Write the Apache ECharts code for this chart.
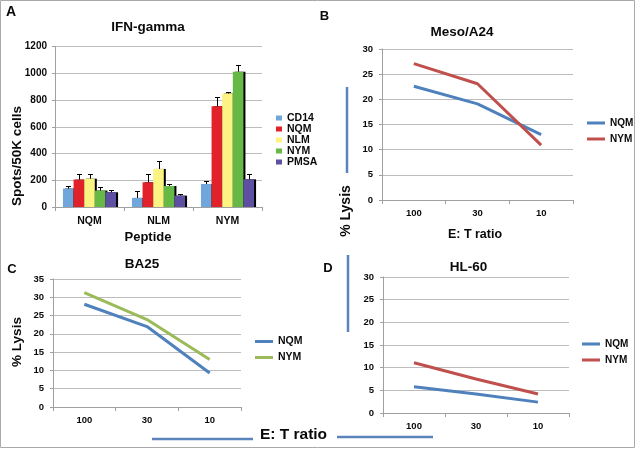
<!DOCTYPE html>
<html>
<head>
<meta charset="utf-8">
<script src="https://cdn.jsdelivr.net/npm/echarts@6/dist/echarts.min.js"></script>
<style>html,body{margin:0;padding:0;background:#fff}#c{width:636px;height:449px}</style>
</head>
<body>
<div id="c"></div>
<script>
// ---- Panel A data ----
const peptides = ['NQM', 'NLM', 'NYM'];
const groupNames = ['CD14', 'NQM', 'NLM', 'NYM', 'PMSA'];
const groupColors = ['#6fa6dc', '#e2222b', '#fbf382', '#67b946', '#5f4fa3'];
const cd14 = [138, 68, 172];
const nqmA = [205, 185, 755];
const nlmA = [212, 285, 850];
const nymA = [123, 157, 1013];
const pmsa = [110, 85, 207];
const cd14Err = [20, 50, 22];
const nqmAErr = [40, 65, 70];
const nlmAErr = [38, 62, 14];
const nymAErr = [25, 18, 50];
const pmsaErr = [18, 10, 43];
const aTicks = [0, 200, 400, 600, 800, 1000, 1200];

// ---- Line panels ----
const ratios = ['100', '30', '10'];
const mesoNQM = [22.6, 19.1, 13.0];
const mesoNYM = [27.1, 23.1, 10.9];
const ba25NQM = [28.1, 22.0, 9.3];
const ba25NYM = [31.3, 23.9, 13.0];
const hl60NQM = [5.8, 4.2, 2.4];
const hl60NYM = [11.1, 7.5, 4.2];

const FONT = 'Liberation Sans, Arial, sans-serif';
const blue = '#4f81bd', red = '#c0504d', green = '#9bbb59';
const gridColor = '#bcbcbc', axisColor = '#a0a0a0';

const barVals = [cd14, nqmA, nlmA, nymA, pmsa];
const barErrs = [cd14Err, nqmAErr, nlmAErr, nymAErr, pmsaErr];
const GAP = 0.23;

function catAxis(gi, data) {
  return {
    type: 'category', gridIndex: gi, data: data, boundaryGap: true,
    axisLine: {lineStyle: {color: axisColor, width: 1}},
    axisTick: {show: true, length: 4, lineStyle: {color: axisColor}},
    axisLabel: {color: '#0a0a0a', fontFamily: FONT, fontWeight: 'bold', fontSize: gi === 0 ? 10.5 : 9.5, margin: gi === 0 ? 9 : 8}
  };
}
function valAxis(gi, max, interval, fs) {
  return {
    type: 'value', gridIndex: gi, min: 0, max: max, interval: interval,
    axisLine: {show: true, lineStyle: {color: axisColor}},
    axisTick: {show: true, length: 3, lineStyle: {color: axisColor}},
    splitLine: {show: true, lineStyle: {color: gridColor, width: 1}},
    axisLabel: {color: '#0a0a0a', fontFamily: FONT, fontWeight: 'bold', fontSize: fs, margin: gi === 0 ? 8 : 9,
      formatter: function (v) { return String(v); }}
  };
}

const series = [];
groupNames.forEach((n, i) => {
  series.push({
    type: 'bar', name: n, xAxisIndex: 0, yAxisIndex: 0, data: barVals[i],
    barGap: '0%', barCategoryGap: (GAP * 100) + '%',
    itemStyle: {color: groupColors[i], shadowColor: '#000', shadowOffsetX: 2, shadowOffsetY: 0, shadowBlur: 0},
    emphasis: {disabled: true}, animation: false
  });
});
const errData = [];
groupNames.forEach((n, i) => {
  peptides.forEach((p, c) => {
    errData.push([c, barVals[i][c], barVals[i][c] + barErrs[i][c], i]);
  });
});
series.push({
  type: 'custom', xAxisIndex: 0, yAxisIndex: 0, data: errData, z: 5,
  encode: {x: 0, y: [1, 2]}, animation: false,
  renderItem: function (params, api) {
    const c = api.value(0), v = api.value(1), top = api.value(2), idx = api.value(3);
    const band = api.size([1, 0])[0];
    const gw = band * (1 - GAP), bw = gw / 5;
    const cx = Math.round(api.coord([c, 0])[0] - gw / 2 + bw * (idx + 0.5)) + 0.5;
    const y1 = api.coord([c, v])[1], y2 = Math.round(api.coord([c, top])[1]) + 0.5;
    return {type: 'group', children: [
      {type: 'line', shape: {x1: cx, y1: y1, x2: cx, y2: y2}, style: {stroke: '#000', lineWidth: 1}},
      {type: 'line', shape: {x1: cx - 2.5, y1: y2, x2: cx + 2.5, y2: y2}, style: {stroke: '#000', lineWidth: 1}}
    ]};
  }
});
function lineSeries(gi, name, data, color) {
  return {type: 'line', name: name, xAxisIndex: gi, yAxisIndex: gi, data: data, symbol: 'none',
    lineStyle: {color: color, width: 3}, itemStyle: {color: color}, animation: false, emphasis: {disabled: true}};
}
series.push(lineSeries(1, 'NQM', mesoNQM, blue));
series.push(lineSeries(1, 'NYM', mesoNYM, red));
series.push(lineSeries(2, 'NQM', ba25NQM, blue));
series.push(lineSeries(2, 'NYM', ba25NYM, green));
series.push(lineSeries(3, 'NQM', hl60NQM, blue));
series.push(lineSeries(3, 'NYM', hl60NYM, red));

function lineLegend(left, top, c2, fs) {
  return {
    left: left, top: top, padding: 0, orient: 'vertical', icon: 'rect', itemWidth: 18, itemHeight: 3,
    itemGap: 5, itemTextGap: 1, selectedMode: false,
    textStyle: {color: '#0a0a0a', fontFamily: FONT, fontWeight: 'bold', fontSize: fs, lineHeight: 11},
    data: [{name: 'NQM', itemStyle: {color: blue}}, {name: 'NYM', itemStyle: {color: c2}}]
  };
}

function txt(t, x, y, size, rot) {
  const e = {type: 'text', x: x, y: y, z: 10, style: {text: t, fill: '#0a0a0a',
    font: 'bold ' + size + 'px ' + FONT, textAlign: 'center', textVerticalAlign: 'middle', align: 'center', verticalAlign: 'middle'}};
  if (rot) e.rotation = Math.PI / 2;
  return e;
}
function seg(x1, y1, x2, y2) {
  return {type: 'line', z: 9, shape: {x1: x1, y1: y1, x2: x2, y2: y2}, style: {stroke: '#5b84ba', lineWidth: 2.5}};
}

const option = {
  backgroundColor: '#fff',
  animation: false,
  grid: [
    {left: 55, top: 46.7, width: 207, height: 160.3},
    {left: 382, top: 49, width: 191, height: 151},
    {left: 53, top: 279, width: 188, height: 128},
    {left: 383, top: 277, width: 186, height: 136}
  ],
  xAxis: [catAxis(0, peptides), catAxis(1, ratios), catAxis(2, ratios), catAxis(3, ratios)],
  yAxis: [valAxis(0, 1200, 200, 10), valAxis(1, 30, 5, 9.5), valAxis(2, 35, 5, 9.5), valAxis(3, 30, 5, 9.5)],
  legend: [
    {left: 276, top: 112.5, padding: 0, orient: 'vertical', icon: 'rect', itemWidth: 6, itemHeight: 5,
      itemGap: 0, itemTextGap: 3, selectedMode: false,
      textStyle: {color: '#0a0a0a', fontFamily: FONT, fontWeight: 'bold', fontSize: 10.5, lineHeight: 10.5},
      data: groupNames.map((n, i) => ({name: n, itemStyle: {color: groupColors[i], shadowBlur: 0, shadowOffsetX: 0}}))},
    lineLegend(587, 117.5, red, 10),
    lineLegend(255, 336, green, 10.5),
    lineLegend(582, 338.5, red, 10)
  ],
  series: series,
  graphic: [
    {type: 'rect', shape: {x: 0.5, y: 0.5, width: 634, height: 447}, style: {fill: 'none', stroke: '#aaaaaa', lineWidth: 1}, z: 1},
    txt('A', 11, 12.5, 14),
    txt('B', 324.5, 16, 13),
    txt('C', 12, 269, 13),
    txt('D', 328, 268.5, 13),
    txt('IFN-gamma', 148, 27, 13.5),
    txt('Meso/A24', 462, 32.5, 13.5),
    txt('BA25', 142, 264, 13.5),
    txt('HL-60', 468.5, 267, 13.5),
    txt('Spots/50K cells', 17.5, 156, 13.5, true),
    txt('Peptide', 148, 237, 13),
    txt('% Lysis', 17.5, 342, 13.5, true),
    txt('% Lysis', 346, 211, 14, true),
    txt('E: T ratio', 475, 235, 12.5),
    txt('E: T ratio', 293.5, 435, 15.5),
    seg(347, 87, 347, 173),
    seg(348, 255, 348, 332),
    seg(152, 439, 253, 439),
    seg(337, 437, 433, 437)
  ]
};
const chart = echarts.init(document.getElementById('c'), null, {renderer: 'canvas'});
chart.setOption(option);
</script>
</body>
</html>
